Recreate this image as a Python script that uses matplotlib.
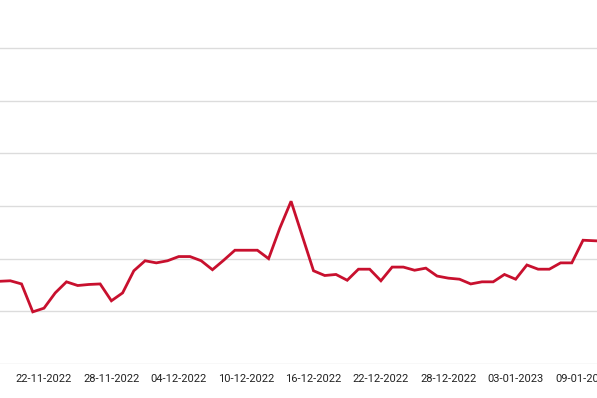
import numpy as np
import pandas as pd
import matplotlib
matplotlib.use("Agg")
import matplotlib.pyplot as plt
import matplotlib.dates as mdates

# daily values (gridline step = 10)
dates = pd.date_range("2022-11-18", "2023-01-11", freq="D")
values = [15.7, 15.8, 15.2, 9.9, 10.6, 13.5, 15.6, 14.9, 15.1, 15.2,
          12.0, 13.5, 17.7, 19.6, 19.2, 19.6, 20.4, 20.4, 19.6, 17.9,
          19.7, 21.6, 21.6, 21.6, 20.0, 25.8, 30.9, 24.3, 17.7, 16.8,
          17.0, 15.9, 18.0, 18.0, 15.8, 18.4, 18.4, 17.8, 18.2, 16.7,
          16.3, 16.1, 15.2, 15.6, 15.6, 17.0, 16.1, 18.8, 18.0, 18.0,
          19.2, 19.2, 23.5, 23.4, 23.3]
tick_dates = pd.date_range("2022-11-22", "2023-01-09", freq="6D")
y_ticks = [0, 10, 20, 30, 40, 50, 60]

plt.rcParams['font.family'] = ['Liberation Sans Narrow', 'Roboto', 'DejaVu Sans']

fig = plt.figure(figsize=(5.97, 3.98), dpi=100)
ax = fig.add_axes([0, 34 / 398, 1, 364 / 398])

ax.plot(dates, values, color="#c8102e", linewidth=2.0, solid_joinstyle="miter")

px_per_day = 11.23
x0 = mdates.date2num(pd.Timestamp("2022-11-22")) - 44 / px_per_day
ax.set_xlim(x0, x0 + 597 / px_per_day)
ax.set_ylim(0, 364 / 5.267)

ax.set_yticks(y_ticks)
ax.yaxis.grid(True, color="#dcdcdc", linewidth=1)
ax.set_axisbelow(True)
ax.set_xticks(tick_dates)
ax.xaxis.set_major_formatter(mdates.DateFormatter("%d-%m-%Y"))
ax.tick_params(axis="x", length=0, pad=7, labelsize=8, labelcolor="#222222")
ax.tick_params(axis="y", length=0, labelleft=False)
for s in ax.spines.values():
    s.set_visible(False)

fig.savefig("out.png", dpi=100)
